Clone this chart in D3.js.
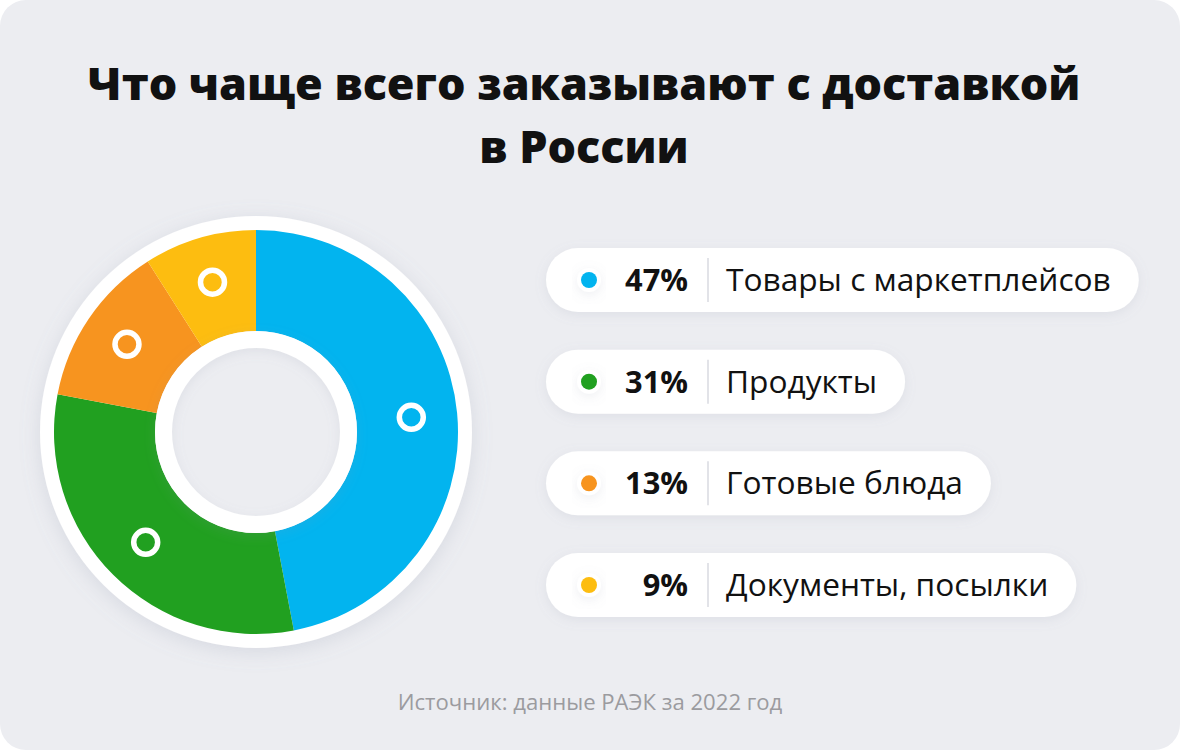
<!DOCTYPE html>
<html><head><meta charset="utf-8">
<script src="https://cdn.jsdelivr.net/npm/d3@7"></script>
<style>
html,body{margin:0;padding:0;background:#fff;}
svg{display:block;}
</style>
</head><body>
<svg id="chart" width="1180" height="750"></svg>
<script>
const titleLines = ["Что чаще всего заказывают с доставкой", "в России"];
const categories = ["Товары с маркетплейсов", "Продукты", "Готовые блюда", "Документы, посылки"];
const values = [47, 31, 13, 9];
const colors = ["#02B4EF", "#21A020", "#F7941F", "#FDBD10"];
const sourceText = "Источник: данные РАЭК за 2022 год";

const W = 1180, H = 750;
const svg = d3.select("#chart");
const defs = svg.append("defs");
const f = defs.append("filter").attr("id","sh").attr("x","-20%").attr("y","-20%").attr("width","140%").attr("height","140%");
f.append("feDropShadow").attr("dx",0).attr("dy",4).attr("stdDeviation",10).attr("flood-color","#8a90a8").attr("flood-opacity",0.22);
const f2 = defs.append("filter").attr("id","sh2").attr("x","-20%").attr("y","-50%").attr("width","140%").attr("height","200%");
f2.append("feDropShadow").attr("dx",0).attr("dy",3).attr("stdDeviation",6).attr("flood-color","#8a90a8").attr("flood-opacity",0.15);

svg.append("rect").attr("width",W).attr("height",H).attr("rx",26).attr("fill","#ECEDF1");

const font = "'Open Sans', 'Noto Sans', sans-serif";
function fit(sel, target){
  const base = +sel.attr("font-size");
  const w = sel.node().getComputedTextLength();
  sel.attr("font-size", base*target/w);
}
const tt = svg.append("g").selectAll("text").data(titleLines).join("text")
  .attr("x", 584).attr("y",(d,i)=>100+i*63)
  .attr("text-anchor","middle").attr("font-family",font).attr("font-weight",800)
  .attr("font-size",48).attr("fill","#111").text(d=>d);
fit(d3.select(tt.nodes()[0]), 993);
d3.select(tt.nodes()[1]).attr("font-size", d3.select(tt.nodes()[0]).attr("font-size"));

// donut
const cx = 256, cy = 432;
const g = svg.append("g").attr("transform",`translate(${cx},${cy})`);
g.append("circle").attr("r",216).attr("fill","#fff").attr("filter","url(#sh)");
const pie = d3.pie().sort(null).value(d=>d)(values);
const arc = d3.arc().innerRadius(100).outerRadius(202);
g.selectAll("path.s").data(pie).join("path").attr("class","s")
  .attr("d",arc).attr("fill",(d,i)=>colors[i]);
g.append("circle").attr("r",101).attr("fill","#ECEDF1");
g.append("circle").attr("r",92.5).attr("fill","none").attr("stroke","#fff").attr("stroke-width",17).attr("filter","url(#sh2)");
const mArc = d3.arc().innerRadius(156).outerRadius(156);
g.selectAll("circle.m").data(pie).join("circle").attr("class","m")
  .attr("cx",d=>mArc.centroid(d)[0]).attr("cy",d=>mArc.centroid(d)[1])
  .attr("r",12).attr("fill","none").attr("stroke","#fff").attr("stroke-width",5.5);

// legend
const yScale = d3.scalePoint().domain(categories).range([280,585]);
const lg = svg.append("g");
let labelSize = 28, pctSize = 28;
{
  const tmp = svg.append("text").attr("font-family",font).attr("font-size",28).text(categories[0]);
  labelSize = 28*385/tmp.node().getComputedTextLength(); tmp.remove();
  const tmp2 = svg.append("text").attr("font-family",font).attr("font-weight",700).attr("font-size",28).text(values[0]+"%");
  pctSize = 28*63/tmp2.node().getComputedTextLength(); tmp2.remove();
}
categories.forEach((c,i)=>{
  const y = yScale(c);
  const row = lg.append("g");
  const pill = row.append("rect").attr("x",546).attr("y",y-32).attr("height",64).attr("rx",32).attr("fill","#fff").attr("filter","url(#sh2)");
  row.append("circle").attr("cx",589).attr("cy",y).attr("r",12).attr("fill","#fff").attr("filter","url(#sh2)");
  row.append("circle").attr("cx",589).attr("cy",y).attr("r",8).attr("fill",colors[i]);
  row.append("text").attr("x",688).attr("y",y+11).attr("text-anchor","end")
    .attr("font-family",font).attr("font-weight",700).attr("font-size",pctSize).attr("fill","#111").text(values[i]+"%");
  row.append("line").attr("x1",708).attr("x2",708).attr("y1",y-22).attr("y2",y+22).attr("stroke","#e2e3e8").attr("stroke-width",2);
  const t = row.append("text").attr("x",726).attr("y",y+11)
    .attr("font-family",font).attr("font-size",labelSize).attr("fill","#111").text(c);
  const tw = t.node().getComputedTextLength();
  pill.attr("width", 726 + tw + 28 - 546);
});

const src = svg.append("text").attr("x",590).attr("y",710).attr("text-anchor","middle")
  .attr("font-family",font).attr("font-size",21).attr("fill","#9b9b9f").text(sourceText);
fit(src, 385);
</script>
</body></html>
